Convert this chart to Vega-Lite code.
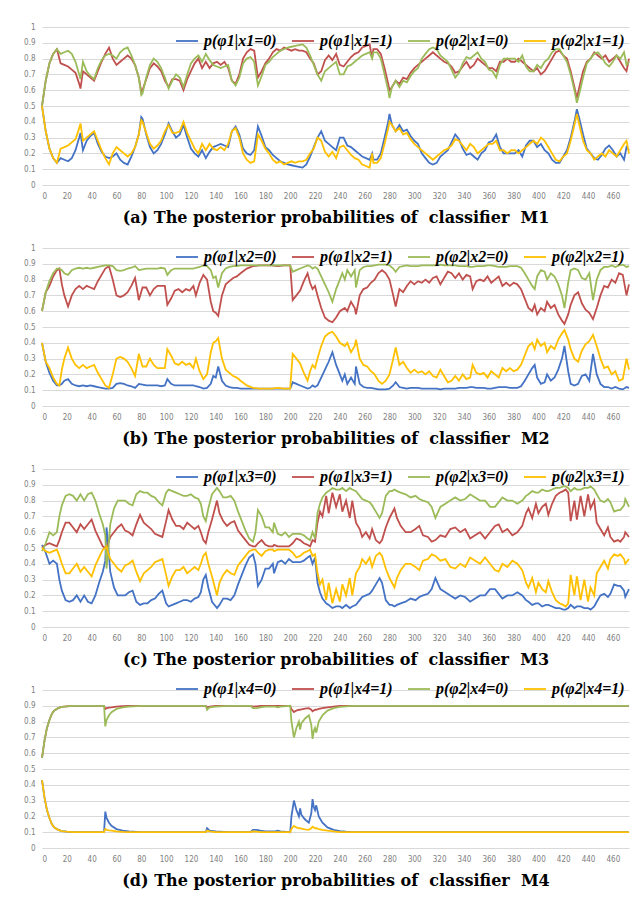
{
"$schema": "https://vega.github.io/schema/vega-lite/v6.json",
"background": "white",
"padding": {"left": 23, "top": 23, "right": 5, "bottom": 5},
"bounds": "flush",
"spacing": 63,
"resolve": {"scale": {"color": "independent"}, "legend": {"color": "independent"}},
"config": {
 "view": {"stroke": null},
 "axis": {"grid": false, "domain": false, "ticks": false, "tickSize": 0, "labelFont": "Liberation Sans Narrow, DejaVu Sans Condensed, sans-serif", "labelFontSize": 8, "labelColor": "#808080"},
 "axisY": {"grid": true, "gridColor": "#d9d9d9", "gridWidth": 1, "labelPadding": 7, "format": ".1~f"},
 "axisX": {"labelPadding": 7, "titleFont": "DejaVu Serif", "titleFontSize": 16, "titleFontWeight": "bold", "titleColor": "#000000", "titlePadding": 9},
 "legend": {"orient": "none", "direction": "horizontal", "symbolType": "stroke", "symbolSize": 484, "symbolStrokeWidth": 2, "labelFont": "Liberation Serif", "labelFontSize": 16, "labelFontStyle": "italic", "labelFontWeight": "bold", "labelColor": "#000000", "columnPadding": 11, "labelOffset": 5, "padding": 0},
 "line": {"strokeWidth": 1.8}
},
"datasets": {
"m1": [
{"x":0,"b":0.5,"r":0.5,"g":0.5,"y":0.5},{"x":3,"b":0.34,"r":0.66,"g":0.66,"y":0.34},{"x":6,"b":0.23,"r":0.77,"g":0.77,"y":0.23},{"x":9,"b":0.17,"r":0.83,"g":0.83,"y":0.17},{"x":12,"b":0.14,"r":0.86,"g":0.86,"y":0.14},{"x":15,"b":0.17,"r":0.77,"g":0.83,"y":0.23},{"x":18,"b":0.16,"r":0.76,"g":0.84,"y":0.24},{"x":21,"b":0.15,"r":0.75,"g":0.85,"y":0.25},{"x":24,"b":0.17,"r":0.73,"g":0.83,"y":0.27},{"x":27,"b":0.22,"r":0.71,"g":0.78,"y":0.29},{"x":30,"b":0.3,"r":0.64,"g":0.7,"y":0.36},{"x":31,"b":0.33,"r":0.61,"g":0.67,"y":0.39},{"x":33,"b":0.22,"r":0.72,"g":0.78,"y":0.28},{"x":36,"b":0.28,"r":0.7,"g":0.72,"y":0.3},{"x":39,"b":0.31,"r":0.68,"g":0.69,"y":0.32},{"x":42,"b":0.33,"r":0.66,"g":0.67,"y":0.34},{"x":45,"b":0.26,"r":0.72,"g":0.74,"y":0.28},{"x":48,"b":0.21,"r":0.78,"g":0.79,"y":0.22},{"x":51,"b":0.18,"r":0.83,"g":0.82,"y":0.17},{"x":54,"b":0.17,"r":0.87,"g":0.83,"y":0.13},{"x":57,"b":0.18,"r":0.8,"g":0.82,"y":0.2},{"x":60,"b":0.2,"r":0.76,"g":0.8,"y":0.24},{"x":63,"b":0.16,"r":0.78,"g":0.84,"y":0.22},{"x":66,"b":0.14,"r":0.8,"g":0.86,"y":0.2},{"x":69,"b":0.13,"r":0.82,"g":0.87,"y":0.18},{"x":72,"b":0.18,"r":0.8,"g":0.82,"y":0.2},{"x":75,"b":0.24,"r":0.76,"g":0.76,"y":0.24},{"x":78,"b":0.32,"r":0.68,"g":0.68,"y":0.32},{"x":80,"b":0.43,"r":0.59,"g":0.57,"y":0.41},{"x":81,"b":0.42,"r":0.6,"g":0.58,"y":0.4},{"x":84,"b":0.32,"r":0.67,"g":0.68,"y":0.33},{"x":87,"b":0.24,"r":0.74,"g":0.76,"y":0.26},{"x":90,"b":0.2,"r":0.77,"g":0.8,"y":0.23},{"x":93,"b":0.22,"r":0.75,"g":0.78,"y":0.25},{"x":96,"b":0.26,"r":0.72,"g":0.74,"y":0.28},{"x":99,"b":0.32,"r":0.66,"g":0.68,"y":0.34},{"x":102,"b":0.39,"r":0.62,"g":0.61,"y":0.38},{"x":105,"b":0.34,"r":0.67,"g":0.66,"y":0.33},{"x":108,"b":0.3,"r":0.67,"g":0.7,"y":0.33},{"x":111,"b":0.32,"r":0.66,"g":0.68,"y":0.34},{"x":114,"b":0.38,"r":0.6,"g":0.62,"y":0.4},{"x":117,"b":0.3,"r":0.67,"g":0.7,"y":0.33},{"x":120,"b":0.23,"r":0.72,"g":0.77,"y":0.28},{"x":123,"b":0.2,"r":0.77,"g":0.8,"y":0.23},{"x":126,"b":0.18,"r":0.8,"g":0.82,"y":0.2},{"x":129,"b":0.22,"r":0.74,"g":0.78,"y":0.26},{"x":132,"b":0.17,"r":0.78,"g":0.83,"y":0.22},{"x":135,"b":0.21,"r":0.74,"g":0.79,"y":0.26},{"x":138,"b":0.24,"r":0.77,"g":0.76,"y":0.23},{"x":141,"b":0.25,"r":0.78,"g":0.75,"y":0.22},{"x":144,"b":0.26,"r":0.76,"g":0.74,"y":0.24},{"x":147,"b":0.25,"r":0.78,"g":0.75,"y":0.22},{"x":150,"b":0.24,"r":0.74,"g":0.76,"y":0.26},{"x":153,"b":0.34,"r":0.66,"g":0.66,"y":0.34},{"x":156,"b":0.37,"r":0.64,"g":0.63,"y":0.36},{"x":159,"b":0.32,"r":0.7,"g":0.68,"y":0.3},{"x":162,"b":0.23,"r":0.8,"g":0.77,"y":0.2},{"x":165,"b":0.2,"r":0.84,"g":0.8,"y":0.16},{"x":168,"b":0.19,"r":0.86,"g":0.81,"y":0.14},{"x":171,"b":0.22,"r":0.85,"g":0.78,"y":0.15},{"x":174,"b":0.37,"r":0.68,"g":0.63,"y":0.32},{"x":177,"b":0.31,"r":0.72,"g":0.69,"y":0.28},{"x":180,"b":0.24,"r":0.77,"g":0.76,"y":0.23},{"x":183,"b":0.22,"r":0.8,"g":0.78,"y":0.2},{"x":186,"b":0.19,"r":0.84,"g":0.81,"y":0.16},{"x":189,"b":0.17,"r":0.86,"g":0.83,"y":0.14},{"x":192,"b":0.15,"r":0.85,"g":0.85,"y":0.15},{"x":195,"b":0.14,"r":0.87,"g":0.86,"y":0.13},{"x":198,"b":0.13,"r":0.86,"g":0.87,"y":0.14},{"x":201,"b":0.125,"r":0.85,"g":0.875,"y":0.15},{"x":204,"b":0.12,"r":0.86,"g":0.88,"y":0.14},{"x":207,"b":0.115,"r":0.85,"g":0.885,"y":0.15},{"x":210,"b":0.11,"r":0.85,"g":0.89,"y":0.15},{"x":213,"b":0.13,"r":0.84,"g":0.87,"y":0.16},{"x":216,"b":0.18,"r":0.8,"g":0.82,"y":0.2},{"x":219,"b":0.24,"r":0.77,"g":0.76,"y":0.23},{"x":222,"b":0.3,"r":0.7,"g":0.7,"y":0.3},{"x":225,"b":0.34,"r":0.72,"g":0.66,"y":0.28},{"x":228,"b":0.28,"r":0.79,"g":0.72,"y":0.21},{"x":231,"b":0.26,"r":0.82,"g":0.74,"y":0.18},{"x":234,"b":0.24,"r":0.79,"g":0.76,"y":0.21},{"x":237,"b":0.22,"r":0.83,"g":0.78,"y":0.17},{"x":240,"b":0.3,"r":0.76,"g":0.7,"y":0.24},{"x":243,"b":0.3,"r":0.75,"g":0.7,"y":0.25},{"x":246,"b":0.25,"r":0.78,"g":0.75,"y":0.22},{"x":249,"b":0.24,"r":0.81,"g":0.76,"y":0.19},{"x":252,"b":0.22,"r":0.83,"g":0.78,"y":0.17},{"x":255,"b":0.2,"r":0.84,"g":0.8,"y":0.16},{"x":258,"b":0.18,"r":0.87,"g":0.82,"y":0.13},{"x":261,"b":0.17,"r":0.88,"g":0.83,"y":0.12},{"x":264,"b":0.16,"r":0.89,"g":0.84,"y":0.11},{"x":266,"b":0.2,"r":0.8,"g":0.8,"y":0.2},{"x":267,"b":0.16,"r":0.86,"g":0.84,"y":0.14},{"x":270,"b":0.16,"r":0.86,"g":0.84,"y":0.14},{"x":273,"b":0.2,"r":0.83,"g":0.8,"y":0.17},{"x":276,"b":0.3,"r":0.74,"g":0.7,"y":0.26},{"x":279,"b":0.4,"r":0.64,"g":0.6,"y":0.36},{"x":280,"b":0.45,"r":0.6,"g":0.55,"y":0.4},{"x":282,"b":0.38,"r":0.62,"g":0.62,"y":0.38},{"x":285,"b":0.34,"r":0.66,"g":0.66,"y":0.34},{"x":288,"b":0.38,"r":0.64,"g":0.62,"y":0.36},{"x":291,"b":0.34,"r":0.68,"g":0.66,"y":0.32},{"x":294,"b":0.35,"r":0.67,"g":0.65,"y":0.33},{"x":297,"b":0.31,"r":0.71,"g":0.69,"y":0.29},{"x":300,"b":0.28,"r":0.74,"g":0.72,"y":0.26},{"x":303,"b":0.26,"r":0.76,"g":0.74,"y":0.24},{"x":306,"b":0.2,"r":0.78,"g":0.8,"y":0.22},{"x":309,"b":0.17,"r":0.8,"g":0.83,"y":0.2},{"x":312,"b":0.14,"r":0.82,"g":0.86,"y":0.18},{"x":315,"b":0.13,"r":0.84,"g":0.87,"y":0.16},{"x":318,"b":0.14,"r":0.82,"g":0.86,"y":0.18},{"x":321,"b":0.18,"r":0.8,"g":0.82,"y":0.2},{"x":324,"b":0.2,"r":0.78,"g":0.8,"y":0.22},{"x":327,"b":0.22,"r":0.77,"g":0.78,"y":0.23},{"x":330,"b":0.27,"r":0.75,"g":0.73,"y":0.25},{"x":333,"b":0.32,"r":0.71,"g":0.68,"y":0.29},{"x":336,"b":0.29,"r":0.72,"g":0.71,"y":0.28},{"x":339,"b":0.23,"r":0.75,"g":0.77,"y":0.25},{"x":342,"b":0.19,"r":0.78,"g":0.81,"y":0.22},{"x":345,"b":0.2,"r":0.74,"g":0.8,"y":0.26},{"x":348,"b":0.18,"r":0.76,"g":0.82,"y":0.24},{"x":351,"b":0.16,"r":0.8,"g":0.84,"y":0.2},{"x":354,"b":0.2,"r":0.78,"g":0.8,"y":0.22},{"x":357,"b":0.22,"r":0.76,"g":0.78,"y":0.24},{"x":360,"b":0.27,"r":0.74,"g":0.73,"y":0.26},{"x":363,"b":0.28,"r":0.74,"g":0.72,"y":0.26},{"x":366,"b":0.32,"r":0.72,"g":0.68,"y":0.28},{"x":369,"b":0.24,"r":0.78,"g":0.76,"y":0.22},{"x":372,"b":0.2,"r":0.78,"g":0.8,"y":0.22},{"x":375,"b":0.2,"r":0.8,"g":0.8,"y":0.2},{"x":378,"b":0.2,"r":0.78,"g":0.8,"y":0.22},{"x":381,"b":0.2,"r":0.78,"g":0.8,"y":0.22},{"x":384,"b":0.22,"r":0.8,"g":0.78,"y":0.2},{"x":387,"b":0.18,"r":0.78,"g":0.82,"y":0.22},{"x":390,"b":0.25,"r":0.76,"g":0.75,"y":0.24},{"x":393,"b":0.28,"r":0.74,"g":0.72,"y":0.26},{"x":396,"b":0.28,"r":0.72,"g":0.72,"y":0.28},{"x":399,"b":0.24,"r":0.74,"g":0.76,"y":0.26},{"x":402,"b":0.26,"r":0.7,"g":0.74,"y":0.3},{"x":405,"b":0.22,"r":0.72,"g":0.78,"y":0.28},{"x":408,"b":0.2,"r":0.76,"g":0.8,"y":0.24},{"x":411,"b":0.16,"r":0.8,"g":0.84,"y":0.2},{"x":414,"b":0.14,"r":0.84,"g":0.86,"y":0.16},{"x":417,"b":0.14,"r":0.85,"g":0.86,"y":0.15},{"x":420,"b":0.18,"r":0.82,"g":0.82,"y":0.18},{"x":423,"b":0.22,"r":0.8,"g":0.78,"y":0.2},{"x":426,"b":0.3,"r":0.72,"g":0.7,"y":0.28},{"x":429,"b":0.4,"r":0.62,"g":0.6,"y":0.38},{"x":431,"b":0.48,"r":0.55,"g":0.52,"y":0.45},{"x":433,"b":0.42,"r":0.62,"g":0.58,"y":0.38},{"x":436,"b":0.32,"r":0.72,"g":0.68,"y":0.28},{"x":439,"b":0.23,"r":0.78,"g":0.77,"y":0.22},{"x":442,"b":0.2,"r":0.8,"g":0.8,"y":0.2},{"x":445,"b":0.17,"r":0.84,"g":0.83,"y":0.16},{"x":448,"b":0.16,"r":0.82,"g":0.84,"y":0.18},{"x":451,"b":0.19,"r":0.8,"g":0.81,"y":0.2},{"x":454,"b":0.23,"r":0.82,"g":0.77,"y":0.18},{"x":457,"b":0.25,"r":0.78,"g":0.75,"y":0.22},{"x":460,"b":0.22,"r":0.8,"g":0.78,"y":0.2},{"x":463,"b":0.18,"r":0.82,"g":0.82,"y":0.18},{"x":466,"b":0.2,"r":0.78,"g":0.8,"y":0.22},{"x":469,"b":0.16,"r":0.74,"g":0.84,"y":0.26},{"x":471,"b":0.24,"r":0.72,"g":0.76,"y":0.28},{"x":473,"b":0.22,"r":0.8,"g":0.78,"y":0.2}
],
"m2": [
{"x":0,"b":0.4,"r":0.6,"g":0.6,"y":0.4},{"x":3,"b":0.28,"r":0.72,"g":0.72,"y":0.28},{"x":6,"b":0.21,"r":0.76,"g":0.79,"y":0.24},{"x":9,"b":0.16,"r":0.82,"g":0.84,"y":0.18},{"x":12,"b":0.13,"r":0.86,"g":0.87,"y":0.14},{"x":14,"b":0.13,"r":0.87,"g":0.87,"y":0.13},{"x":16,"b":0.14,"r":0.77,"g":0.86,"y":0.23},{"x":18,"b":0.16,"r":0.7,"g":0.84,"y":0.3},{"x":21,"b":0.17,"r":0.63,"g":0.83,"y":0.37},{"x":24,"b":0.14,"r":0.7,"g":0.86,"y":0.3},{"x":27,"b":0.13,"r":0.74,"g":0.87,"y":0.26},{"x":30,"b":0.125,"r":0.76,"g":0.875,"y":0.24},{"x":33,"b":0.13,"r":0.74,"g":0.87,"y":0.26},{"x":36,"b":0.125,"r":0.76,"g":0.875,"y":0.24},{"x":39,"b":0.13,"r":0.75,"g":0.87,"y":0.25},{"x":42,"b":0.125,"r":0.74,"g":0.875,"y":0.26},{"x":45,"b":0.12,"r":0.79,"g":0.88,"y":0.21},{"x":48,"b":0.115,"r":0.83,"g":0.885,"y":0.17},{"x":51,"b":0.11,"r":0.87,"g":0.89,"y":0.13},{"x":54,"b":0.11,"r":0.885,"g":0.89,"y":0.115},{"x":57,"b":0.115,"r":0.8,"g":0.885,"y":0.2},{"x":60,"b":0.14,"r":0.7,"g":0.86,"y":0.3},{"x":63,"b":0.145,"r":0.69,"g":0.855,"y":0.31},{"x":66,"b":0.14,"r":0.7,"g":0.86,"y":0.3},{"x":69,"b":0.13,"r":0.72,"g":0.87,"y":0.28},{"x":72,"b":0.125,"r":0.76,"g":0.875,"y":0.24},{"x":75,"b":0.115,"r":0.81,"g":0.885,"y":0.19},{"x":77,"b":0.13,"r":0.72,"g":0.87,"y":0.28},{"x":78,"b":0.14,"r":0.67,"g":0.86,"y":0.33},{"x":81,"b":0.135,"r":0.75,"g":0.865,"y":0.25},{"x":84,"b":0.13,"r":0.75,"g":0.87,"y":0.25},{"x":87,"b":0.13,"r":0.7,"g":0.87,"y":0.3},{"x":90,"b":0.13,"r":0.74,"g":0.87,"y":0.26},{"x":93,"b":0.13,"r":0.76,"g":0.87,"y":0.24},{"x":96,"b":0.125,"r":0.76,"g":0.875,"y":0.24},{"x":99,"b":0.13,"r":0.76,"g":0.87,"y":0.24},{"x":101,"b":0.17,"r":0.64,"g":0.83,"y":0.36},{"x":104,"b":0.14,"r":0.68,"g":0.86,"y":0.32},{"x":107,"b":0.13,"r":0.73,"g":0.87,"y":0.27},{"x":110,"b":0.13,"r":0.74,"g":0.87,"y":0.26},{"x":113,"b":0.13,"r":0.72,"g":0.87,"y":0.28},{"x":116,"b":0.13,"r":0.74,"g":0.87,"y":0.26},{"x":119,"b":0.13,"r":0.73,"g":0.87,"y":0.27},{"x":122,"b":0.13,"r":0.76,"g":0.87,"y":0.24},{"x":124,"b":0.125,"r":0.7,"g":0.875,"y":0.3},{"x":127,"b":0.12,"r":0.78,"g":0.88,"y":0.22},{"x":130,"b":0.11,"r":0.83,"g":0.89,"y":0.17},{"x":133,"b":0.115,"r":0.8,"g":0.885,"y":0.2},{"x":136,"b":0.14,"r":0.66,"g":0.86,"y":0.34},{"x":138,"b":0.19,"r":0.6,"g":0.81,"y":0.4},{"x":140,"b":0.18,"r":0.59,"g":0.82,"y":0.41},{"x":142,"b":0.25,"r":0.57,"g":0.75,"y":0.43},{"x":145,"b":0.16,"r":0.7,"g":0.84,"y":0.3},{"x":148,"b":0.13,"r":0.77,"g":0.87,"y":0.23},{"x":151,"b":0.12,"r":0.79,"g":0.88,"y":0.21},{"x":154,"b":0.115,"r":0.81,"g":0.885,"y":0.19},{"x":157,"b":0.115,"r":0.82,"g":0.885,"y":0.18},{"x":160,"b":0.11,"r":0.84,"g":0.89,"y":0.16},{"x":165,"b":0.11,"r":0.87,"g":0.89,"y":0.13},{"x":170,"b":0.11,"r":0.885,"g":0.89,"y":0.115},{"x":175,"b":0.11,"r":0.89,"g":0.89,"y":0.11},{"x":180,"b":0.11,"r":0.89,"g":0.89,"y":0.11},{"x":185,"b":0.11,"r":0.89,"g":0.89,"y":0.11},{"x":190,"b":0.11,"r":0.885,"g":0.89,"y":0.115},{"x":195,"b":0.11,"r":0.89,"g":0.89,"y":0.11},{"x":200,"b":0.11,"r":0.89,"g":0.89,"y":0.11},{"x":202,"b":0.15,"r":0.67,"g":0.85,"y":0.33},{"x":205,"b":0.14,"r":0.7,"g":0.86,"y":0.3},{"x":208,"b":0.13,"r":0.73,"g":0.87,"y":0.27},{"x":211,"b":0.12,"r":0.79,"g":0.88,"y":0.21},{"x":214,"b":0.11,"r":0.84,"g":0.89,"y":0.16},{"x":216,"b":0.115,"r":0.78,"g":0.885,"y":0.22},{"x":218,"b":0.13,"r":0.74,"g":0.87,"y":0.26},{"x":220,"b":0.12,"r":0.76,"g":0.88,"y":0.24},{"x":222,"b":0.13,"r":0.7,"g":0.87,"y":0.3},{"x":225,"b":0.18,"r":0.62,"g":0.82,"y":0.38},{"x":228,"b":0.23,"r":0.56,"g":0.77,"y":0.44},{"x":231,"b":0.28,"r":0.54,"g":0.72,"y":0.46},{"x":234,"b":0.34,"r":0.53,"g":0.66,"y":0.47},{"x":237,"b":0.26,"r":0.56,"g":0.74,"y":0.44},{"x":240,"b":0.2,"r":0.6,"g":0.8,"y":0.4},{"x":242,"b":0.16,"r":0.61,"g":0.84,"y":0.39},{"x":244,"b":0.2,"r":0.62,"g":0.8,"y":0.38},{"x":246,"b":0.14,"r":0.6,"g":0.86,"y":0.4},{"x":249,"b":0.18,"r":0.66,"g":0.82,"y":0.34},{"x":252,"b":0.14,"r":0.62,"g":0.86,"y":0.38},{"x":253,"b":0.25,"r":0.58,"g":0.75,"y":0.42},{"x":256,"b":0.14,"r":0.7,"g":0.86,"y":0.3},{"x":259,"b":0.12,"r":0.74,"g":0.88,"y":0.26},{"x":262,"b":0.115,"r":0.75,"g":0.885,"y":0.25},{"x":265,"b":0.115,"r":0.78,"g":0.885,"y":0.22},{"x":268,"b":0.11,"r":0.8,"g":0.89,"y":0.2},{"x":271,"b":0.105,"r":0.84,"g":0.895,"y":0.16},{"x":274,"b":0.105,"r":0.86,"g":0.895,"y":0.14},{"x":277,"b":0.105,"r":0.84,"g":0.895,"y":0.16},{"x":280,"b":0.11,"r":0.8,"g":0.89,"y":0.2},{"x":283,"b":0.13,"r":0.7,"g":0.87,"y":0.3},{"x":285,"b":0.15,"r":0.63,"g":0.85,"y":0.37},{"x":288,"b":0.12,"r":0.74,"g":0.88,"y":0.26},{"x":291,"b":0.115,"r":0.72,"g":0.885,"y":0.28},{"x":294,"b":0.11,"r":0.76,"g":0.89,"y":0.24},{"x":297,"b":0.115,"r":0.79,"g":0.885,"y":0.21},{"x":300,"b":0.115,"r":0.77,"g":0.885,"y":0.23},{"x":303,"b":0.115,"r":0.79,"g":0.885,"y":0.21},{"x":306,"b":0.11,"r":0.78,"g":0.89,"y":0.22},{"x":309,"b":0.11,"r":0.8,"g":0.89,"y":0.2},{"x":312,"b":0.11,"r":0.78,"g":0.89,"y":0.22},{"x":315,"b":0.11,"r":0.81,"g":0.89,"y":0.19},{"x":318,"b":0.11,"r":0.82,"g":0.89,"y":0.18},{"x":321,"b":0.105,"r":0.77,"g":0.895,"y":0.23},{"x":324,"b":0.11,"r":0.81,"g":0.89,"y":0.19},{"x":327,"b":0.11,"r":0.85,"g":0.89,"y":0.15},{"x":330,"b":0.11,"r":0.84,"g":0.89,"y":0.16},{"x":333,"b":0.11,"r":0.81,"g":0.89,"y":0.19},{"x":336,"b":0.115,"r":0.84,"g":0.885,"y":0.16},{"x":339,"b":0.115,"r":0.8,"g":0.885,"y":0.2},{"x":342,"b":0.115,"r":0.83,"g":0.885,"y":0.17},{"x":345,"b":0.12,"r":0.82,"g":0.88,"y":0.18},{"x":347,"b":0.12,"r":0.74,"g":0.88,"y":0.26},{"x":350,"b":0.115,"r":0.79,"g":0.885,"y":0.21},{"x":353,"b":0.115,"r":0.8,"g":0.885,"y":0.2},{"x":356,"b":0.115,"r":0.79,"g":0.885,"y":0.21},{"x":359,"b":0.11,"r":0.82,"g":0.89,"y":0.18},{"x":362,"b":0.11,"r":0.78,"g":0.89,"y":0.22},{"x":365,"b":0.115,"r":0.8,"g":0.885,"y":0.2},{"x":368,"b":0.12,"r":0.82,"g":0.88,"y":0.18},{"x":371,"b":0.12,"r":0.76,"g":0.88,"y":0.24},{"x":374,"b":0.12,"r":0.78,"g":0.88,"y":0.22},{"x":377,"b":0.115,"r":0.76,"g":0.885,"y":0.24},{"x":380,"b":0.115,"r":0.78,"g":0.885,"y":0.22},{"x":383,"b":0.115,"r":0.77,"g":0.885,"y":0.23},{"x":386,"b":0.125,"r":0.74,"g":0.875,"y":0.26},{"x":389,"b":0.16,"r":0.68,"g":0.84,"y":0.32},{"x":392,"b":0.2,"r":0.62,"g":0.8,"y":0.38},{"x":395,"b":0.24,"r":0.6,"g":0.76,"y":0.4},{"x":397,"b":0.26,"r":0.64,"g":0.74,"y":0.36},{"x":399,"b":0.18,"r":0.58,"g":0.82,"y":0.42},{"x":402,"b":0.14,"r":0.62,"g":0.86,"y":0.38},{"x":405,"b":0.15,"r":0.6,"g":0.85,"y":0.4},{"x":407,"b":0.2,"r":0.66,"g":0.8,"y":0.34},{"x":410,"b":0.16,"r":0.62,"g":0.84,"y":0.38},{"x":413,"b":0.18,"r":0.64,"g":0.82,"y":0.36},{"x":416,"b":0.23,"r":0.58,"g":0.77,"y":0.42},{"x":419,"b":0.3,"r":0.54,"g":0.7,"y":0.46},{"x":421,"b":0.38,"r":0.52,"g":0.62,"y":0.48},{"x":424,"b":0.22,"r":0.58,"g":0.78,"y":0.42},{"x":426,"b":0.14,"r":0.64,"g":0.86,"y":0.36},{"x":429,"b":0.13,"r":0.7,"g":0.87,"y":0.3},{"x":432,"b":0.14,"r":0.72,"g":0.86,"y":0.28},{"x":435,"b":0.19,"r":0.65,"g":0.81,"y":0.35},{"x":438,"b":0.2,"r":0.61,"g":0.8,"y":0.39},{"x":441,"b":0.16,"r":0.59,"g":0.84,"y":0.41},{"x":444,"b":0.33,"r":0.55,"g":0.67,"y":0.45},{"x":447,"b":0.2,"r":0.62,"g":0.8,"y":0.38},{"x":450,"b":0.14,"r":0.7,"g":0.86,"y":0.3},{"x":453,"b":0.12,"r":0.76,"g":0.88,"y":0.24},{"x":456,"b":0.12,"r":0.75,"g":0.88,"y":0.25},{"x":459,"b":0.11,"r":0.8,"g":0.89,"y":0.2},{"x":462,"b":0.12,"r":0.78,"g":0.88,"y":0.22},{"x":465,"b":0.11,"r":0.84,"g":0.89,"y":0.16},{"x":468,"b":0.105,"r":0.83,"g":0.895,"y":0.17},{"x":471,"b":0.12,"r":0.7,"g":0.88,"y":0.3},{"x":473,"b":0.115,"r":0.77,"g":0.885,"y":0.23}
],
"m3": [
{"x":0,"b":0.52,"r":0.5,"g":0.48,"y":0.5},{"x":3,"b":0.47,"r":0.52,"g":0.53,"y":0.48},{"x":6,"b":0.4,"r":0.53,"g":0.6,"y":0.47},{"x":9,"b":0.42,"r":0.52,"g":0.58,"y":0.48},{"x":12,"b":0.4,"r":0.51,"g":0.6,"y":0.49},{"x":14,"b":0.3,"r":0.55,"g":0.7,"y":0.45},{"x":16,"b":0.23,"r":0.6,"g":0.77,"y":0.4},{"x":19,"b":0.17,"r":0.66,"g":0.83,"y":0.34},{"x":22,"b":0.16,"r":0.66,"g":0.84,"y":0.34},{"x":25,"b":0.17,"r":0.63,"g":0.83,"y":0.37},{"x":28,"b":0.2,"r":0.6,"g":0.8,"y":0.4},{"x":31,"b":0.16,"r":0.65,"g":0.84,"y":0.35},{"x":34,"b":0.2,"r":0.62,"g":0.8,"y":0.38},{"x":37,"b":0.16,"r":0.65,"g":0.84,"y":0.35},{"x":40,"b":0.15,"r":0.68,"g":0.85,"y":0.32},{"x":43,"b":0.2,"r":0.61,"g":0.8,"y":0.39},{"x":46,"b":0.28,"r":0.56,"g":0.72,"y":0.44},{"x":49,"b":0.35,"r":0.51,"g":0.65,"y":0.49},{"x":51,"b":0.42,"r":0.5,"g":0.58,"y":0.5},{"x":52,"b":0.63,"r":0.49,"g":0.37,"y":0.51},{"x":53,"b":0.55,"r":0.52,"g":0.45,"y":0.48},{"x":55,"b":0.35,"r":0.57,"g":0.65,"y":0.43},{"x":58,"b":0.25,"r":0.6,"g":0.75,"y":0.4},{"x":61,"b":0.2,"r":0.63,"g":0.8,"y":0.37},{"x":64,"b":0.2,"r":0.65,"g":0.8,"y":0.35},{"x":67,"b":0.2,"r":0.61,"g":0.8,"y":0.39},{"x":70,"b":0.22,"r":0.6,"g":0.78,"y":0.4},{"x":73,"b":0.23,"r":0.58,"g":0.77,"y":0.42},{"x":76,"b":0.16,"r":0.65,"g":0.84,"y":0.35},{"x":79,"b":0.14,"r":0.71,"g":0.86,"y":0.29},{"x":82,"b":0.15,"r":0.66,"g":0.85,"y":0.34},{"x":85,"b":0.15,"r":0.64,"g":0.85,"y":0.36},{"x":88,"b":0.17,"r":0.62,"g":0.83,"y":0.38},{"x":91,"b":0.18,"r":0.59,"g":0.82,"y":0.41},{"x":94,"b":0.21,"r":0.58,"g":0.79,"y":0.42},{"x":97,"b":0.23,"r":0.57,"g":0.77,"y":0.43},{"x":100,"b":0.15,"r":0.67,"g":0.85,"y":0.33},{"x":102,"b":0.13,"r":0.74,"g":0.87,"y":0.26},{"x":105,"b":0.14,"r":0.68,"g":0.86,"y":0.32},{"x":108,"b":0.15,"r":0.64,"g":0.85,"y":0.36},{"x":111,"b":0.16,"r":0.64,"g":0.84,"y":0.36},{"x":114,"b":0.17,"r":0.62,"g":0.83,"y":0.38},{"x":117,"b":0.17,"r":0.66,"g":0.83,"y":0.34},{"x":120,"b":0.16,"r":0.64,"g":0.84,"y":0.36},{"x":123,"b":0.18,"r":0.62,"g":0.82,"y":0.38},{"x":126,"b":0.19,"r":0.64,"g":0.81,"y":0.36},{"x":128,"b":0.22,"r":0.6,"g":0.78,"y":0.4},{"x":130,"b":0.3,"r":0.55,"g":0.7,"y":0.45},{"x":132,"b":0.33,"r":0.53,"g":0.67,"y":0.47},{"x":134,"b":0.25,"r":0.6,"g":0.75,"y":0.4},{"x":137,"b":0.16,"r":0.68,"g":0.84,"y":0.32},{"x":140,"b":0.13,"r":0.77,"g":0.87,"y":0.23},{"x":141,"b":0.12,"r":0.8,"g":0.88,"y":0.2},{"x":143,"b":0.14,"r":0.72,"g":0.86,"y":0.28},{"x":146,"b":0.18,"r":0.67,"g":0.82,"y":0.33},{"x":149,"b":0.18,"r":0.64,"g":0.82,"y":0.36},{"x":152,"b":0.17,"r":0.66,"g":0.83,"y":0.34},{"x":155,"b":0.2,"r":0.67,"g":0.8,"y":0.33},{"x":158,"b":0.27,"r":0.61,"g":0.73,"y":0.39},{"x":161,"b":0.33,"r":0.58,"g":0.67,"y":0.42},{"x":164,"b":0.39,"r":0.55,"g":0.61,"y":0.45},{"x":167,"b":0.44,"r":0.52,"g":0.56,"y":0.48},{"x":170,"b":0.46,"r":0.51,"g":0.54,"y":0.49},{"x":172,"b":0.4,"r":0.51,"g":0.6,"y":0.49},{"x":174,"b":0.26,"r":0.53,"g":0.74,"y":0.47},{"x":177,"b":0.3,"r":0.55,"g":0.7,"y":0.45},{"x":180,"b":0.37,"r":0.52,"g":0.63,"y":0.48},{"x":183,"b":0.37,"r":0.51,"g":0.63,"y":0.49},{"x":186,"b":0.4,"r":0.51,"g":0.6,"y":0.49},{"x":187,"b":0.34,"r":0.52,"g":0.66,"y":0.48},{"x":190,"b":0.41,"r":0.51,"g":0.59,"y":0.49},{"x":193,"b":0.42,"r":0.51,"g":0.58,"y":0.49},{"x":196,"b":0.4,"r":0.51,"g":0.6,"y":0.49},{"x":199,"b":0.43,"r":0.51,"g":0.57,"y":0.49},{"x":202,"b":0.41,"r":0.53,"g":0.59,"y":0.47},{"x":205,"b":0.41,"r":0.56,"g":0.59,"y":0.44},{"x":208,"b":0.41,"r":0.55,"g":0.59,"y":0.45},{"x":211,"b":0.42,"r":0.53,"g":0.58,"y":0.47},{"x":214,"b":0.44,"r":0.52,"g":0.56,"y":0.48},{"x":216,"b":0.45,"r":0.51,"g":0.55,"y":0.49},{"x":218,"b":0.4,"r":0.55,"g":0.6,"y":0.45},{"x":220,"b":0.44,"r":0.54,"g":0.56,"y":0.46},{"x":222,"b":0.28,"r":0.66,"g":0.72,"y":0.34},{"x":224,"b":0.22,"r":0.73,"g":0.78,"y":0.27},{"x":226,"b":0.18,"r":0.7,"g":0.82,"y":0.3},{"x":229,"b":0.15,"r":0.83,"g":0.85,"y":0.17},{"x":231,"b":0.14,"r":0.72,"g":0.86,"y":0.28},{"x":234,"b":0.12,"r":0.85,"g":0.88,"y":0.15},{"x":237,"b":0.13,"r":0.76,"g":0.87,"y":0.24},{"x":240,"b":0.13,"r":0.84,"g":0.87,"y":0.16},{"x":242,"b":0.12,"r":0.73,"g":0.88,"y":0.27},{"x":245,"b":0.14,"r":0.8,"g":0.86,"y":0.2},{"x":248,"b":0.12,"r":0.69,"g":0.88,"y":0.31},{"x":250,"b":0.13,"r":0.8,"g":0.87,"y":0.2},{"x":253,"b":0.14,"r":0.66,"g":0.86,"y":0.34},{"x":256,"b":0.17,"r":0.62,"g":0.83,"y":0.38},{"x":258,"b":0.19,"r":0.57,"g":0.81,"y":0.43},{"x":261,"b":0.2,"r":0.6,"g":0.8,"y":0.4},{"x":264,"b":0.21,"r":0.56,"g":0.79,"y":0.44},{"x":266,"b":0.23,"r":0.62,"g":0.77,"y":0.38},{"x":269,"b":0.27,"r":0.55,"g":0.73,"y":0.45},{"x":272,"b":0.31,"r":0.53,"g":0.69,"y":0.47},{"x":274,"b":0.28,"r":0.55,"g":0.72,"y":0.45},{"x":277,"b":0.17,"r":0.63,"g":0.83,"y":0.37},{"x":280,"b":0.14,"r":0.69,"g":0.86,"y":0.31},{"x":282,"b":0.14,"r":0.72,"g":0.86,"y":0.28},{"x":284,"b":0.13,"r":0.75,"g":0.87,"y":0.25},{"x":286,"b":0.14,"r":0.69,"g":0.86,"y":0.31},{"x":289,"b":0.15,"r":0.64,"g":0.85,"y":0.36},{"x":293,"b":0.16,"r":0.6,"g":0.84,"y":0.4},{"x":297,"b":0.18,"r":0.6,"g":0.82,"y":0.4},{"x":301,"b":0.17,"r":0.62,"g":0.83,"y":0.38},{"x":304,"b":0.19,"r":0.64,"g":0.81,"y":0.36},{"x":307,"b":0.2,"r":0.58,"g":0.8,"y":0.42},{"x":311,"b":0.21,"r":0.57,"g":0.79,"y":0.43},{"x":314,"b":0.24,"r":0.54,"g":0.76,"y":0.46},{"x":317,"b":0.31,"r":0.55,"g":0.69,"y":0.45},{"x":321,"b":0.24,"r":0.58,"g":0.76,"y":0.42},{"x":325,"b":0.22,"r":0.57,"g":0.78,"y":0.43},{"x":329,"b":0.2,"r":0.62,"g":0.8,"y":0.38},{"x":333,"b":0.18,"r":0.63,"g":0.82,"y":0.37},{"x":337,"b":0.2,"r":0.6,"g":0.8,"y":0.4},{"x":341,"b":0.19,"r":0.62,"g":0.81,"y":0.38},{"x":345,"b":0.16,"r":0.56,"g":0.84,"y":0.44},{"x":349,"b":0.18,"r":0.58,"g":0.82,"y":0.42},{"x":353,"b":0.2,"r":0.6,"g":0.8,"y":0.4},{"x":357,"b":0.2,"r":0.56,"g":0.8,"y":0.44},{"x":361,"b":0.24,"r":0.6,"g":0.76,"y":0.4},{"x":365,"b":0.24,"r":0.64,"g":0.76,"y":0.36},{"x":368,"b":0.21,"r":0.65,"g":0.79,"y":0.35},{"x":371,"b":0.18,"r":0.6,"g":0.82,"y":0.4},{"x":375,"b":0.2,"r":0.62,"g":0.8,"y":0.38},{"x":379,"b":0.2,"r":0.58,"g":0.8,"y":0.42},{"x":383,"b":0.22,"r":0.6,"g":0.78,"y":0.4},{"x":387,"b":0.2,"r":0.64,"g":0.8,"y":0.36},{"x":390,"b":0.17,"r":0.72,"g":0.83,"y":0.28},{"x":392,"b":0.16,"r":0.75,"g":0.84,"y":0.25},{"x":395,"b":0.14,"r":0.69,"g":0.86,"y":0.31},{"x":398,"b":0.15,"r":0.78,"g":0.85,"y":0.22},{"x":400,"b":0.15,"r":0.72,"g":0.85,"y":0.28},{"x":403,"b":0.13,"r":0.76,"g":0.87,"y":0.24},{"x":406,"b":0.14,"r":0.78,"g":0.86,"y":0.22},{"x":408,"b":0.14,"r":0.71,"g":0.86,"y":0.29},{"x":411,"b":0.13,"r":0.78,"g":0.87,"y":0.22},{"x":414,"b":0.12,"r":0.83,"g":0.88,"y":0.17},{"x":417,"b":0.12,"r":0.85,"g":0.88,"y":0.15},{"x":420,"b":0.11,"r":0.86,"g":0.89,"y":0.14},{"x":422,"b":0.11,"r":0.87,"g":0.89,"y":0.13},{"x":424,"b":0.12,"r":0.85,"g":0.88,"y":0.15},{"x":426,"b":0.14,"r":0.67,"g":0.86,"y":0.33},{"x":429,"b":0.12,"r":0.8,"g":0.88,"y":0.2},{"x":431,"b":0.13,"r":0.68,"g":0.87,"y":0.32},{"x":434,"b":0.13,"r":0.83,"g":0.87,"y":0.17},{"x":437,"b":0.12,"r":0.7,"g":0.88,"y":0.3},{"x":440,"b":0.12,"r":0.84,"g":0.88,"y":0.16},{"x":442,"b":0.11,"r":0.75,"g":0.89,"y":0.25},{"x":445,"b":0.13,"r":0.8,"g":0.87,"y":0.2},{"x":447,"b":0.16,"r":0.66,"g":0.84,"y":0.34},{"x":450,"b":0.2,"r":0.62,"g":0.8,"y":0.38},{"x":453,"b":0.21,"r":0.58,"g":0.79,"y":0.42},{"x":456,"b":0.19,"r":0.63,"g":0.81,"y":0.37},{"x":458,"b":0.21,"r":0.57,"g":0.79,"y":0.43},{"x":461,"b":0.27,"r":0.54,"g":0.73,"y":0.46},{"x":464,"b":0.26,"r":0.55,"g":0.74,"y":0.45},{"x":466,"b":0.26,"r":0.54,"g":0.74,"y":0.46},{"x":469,"b":0.23,"r":0.57,"g":0.77,"y":0.43},{"x":470,"b":0.19,"r":0.6,"g":0.81,"y":0.4},{"x":473,"b":0.24,"r":0.57,"g":0.76,"y":0.43}
],
"m4": [
{"x":0,"b":0.43,"r":0.57,"g":0.57,"y":0.43},{"x":2,"b":0.32,"r":0.68,"g":0.68,"y":0.32},{"x":4,"b":0.24,"r":0.76,"g":0.76,"y":0.24},{"x":6,"b":0.19,"r":0.81,"g":0.81,"y":0.19},{"x":8,"b":0.15,"r":0.85,"g":0.85,"y":0.15},{"x":10,"b":0.13,"r":0.87,"g":0.87,"y":0.13},{"x":13,"b":0.115,"r":0.885,"g":0.885,"y":0.115},{"x":16,"b":0.107,"r":0.893,"g":0.893,"y":0.107},{"x":20,"b":0.103,"r":0.897,"g":0.897,"y":0.103},{"x":25,"b":0.1,"r":0.9,"g":0.9,"y":0.1},{"x":50,"b":0.1,"r":0.9,"g":0.9,"y":0.1},{"x":51,"b":0.23,"r":0.88,"g":0.77,"y":0.12},{"x":52,"b":0.19,"r":0.885,"g":0.81,"y":0.115},{"x":54,"b":0.16,"r":0.888,"g":0.84,"y":0.112},{"x":56,"b":0.14,"r":0.89,"g":0.86,"y":0.11},{"x":60,"b":0.12,"r":0.895,"g":0.88,"y":0.105},{"x":65,"b":0.11,"r":0.898,"g":0.89,"y":0.102},{"x":70,"b":0.105,"r":0.9,"g":0.895,"y":0.1},{"x":80,"b":0.1,"r":0.9,"g":0.9,"y":0.1},{"x":132,"b":0.1,"r":0.9,"g":0.9,"y":0.1},{"x":133,"b":0.125,"r":0.89,"g":0.875,"y":0.11},{"x":135,"b":0.11,"r":0.895,"g":0.89,"y":0.105},{"x":140,"b":0.105,"r":0.9,"g":0.895,"y":0.1},{"x":150,"b":0.1,"r":0.9,"g":0.9,"y":0.1},{"x":168,"b":0.1,"r":0.9,"g":0.9,"y":0.1},{"x":170,"b":0.115,"r":0.895,"g":0.885,"y":0.105},{"x":173,"b":0.115,"r":0.897,"g":0.885,"y":0.103},{"x":176,"b":0.11,"r":0.9,"g":0.89,"y":0.1},{"x":180,"b":0.105,"r":0.9,"g":0.895,"y":0.1},{"x":188,"b":0.105,"r":0.9,"g":0.895,"y":0.1},{"x":190,"b":0.11,"r":0.9,"g":0.89,"y":0.1},{"x":192,"b":0.105,"r":0.9,"g":0.895,"y":0.1},{"x":200,"b":0.1,"r":0.9,"g":0.9,"y":0.1},{"x":201,"b":0.2,"r":0.88,"g":0.8,"y":0.12},{"x":203,"b":0.3,"r":0.86,"g":0.7,"y":0.14},{"x":205,"b":0.24,"r":0.87,"g":0.76,"y":0.13},{"x":207,"b":0.2,"r":0.875,"g":0.8,"y":0.125},{"x":208,"b":0.25,"r":0.875,"g":0.75,"y":0.125},{"x":209,"b":0.21,"r":0.878,"g":0.79,"y":0.122},{"x":212,"b":0.18,"r":0.882,"g":0.82,"y":0.118},{"x":215,"b":0.16,"r":0.885,"g":0.84,"y":0.115},{"x":217,"b":0.22,"r":0.875,"g":0.78,"y":0.125},{"x":218,"b":0.31,"r":0.865,"g":0.69,"y":0.135},{"x":219,"b":0.26,"r":0.87,"g":0.74,"y":0.13},{"x":220,"b":0.24,"r":0.875,"g":0.76,"y":0.125},{"x":221,"b":0.27,"r":0.875,"g":0.73,"y":0.125},{"x":223,"b":0.2,"r":0.88,"g":0.8,"y":0.12},{"x":226,"b":0.16,"r":0.885,"g":0.84,"y":0.115},{"x":230,"b":0.13,"r":0.89,"g":0.87,"y":0.11},{"x":235,"b":0.115,"r":0.895,"g":0.885,"y":0.105},{"x":240,"b":0.107,"r":0.9,"g":0.893,"y":0.1},{"x":245,"b":0.103,"r":0.9,"g":0.897,"y":0.1},{"x":250,"b":0.1,"r":0.9,"g":0.9,"y":0.1},{"x":473,"b":0.1,"r":0.9,"g":0.9,"y":0.1}
]
},
"vconcat": [
{
 "width": 587, "height": 158,
 "data": {"name": "m1"},
 "transform": [{"fold": ["b","r","g","y"], "as": ["k","v"]}],
 "mark": {"type": "line"},
 "encoding": {
  "x": {"field": "x", "type": "quantitative", "scale": {"domain": [0,473], "nice": false}, "axis": {"values": [0,20,40,60,80,100,120,140,160,180,200,220,240,260,280,300,320,340,360,380,400,420,440,460], "title": "(a) The posterior probabilities of\u00a0 classifier\u00a0 M1"}},
  "y": {"field": "v", "type": "quantitative", "scale": {"domain": [0,1]}, "axis": {"values": [0,0.1,0.2,0.3,0.4,0.5,0.6,0.7,0.8,0.9,1], "title": null}},
  "color": {"field": "k", "type": "nominal", "scale": {"domain": ["b","r","g","y"], "range": ["#4472C4","#C0504D","#9BBB59","#FFC000"]}, "legend": {"title": null, "legendX": 133, "legendY": 2, "labelExpr": "datum.label=='b'?'p(φ1|x1=0)':datum.label=='r'?'p(φ1|x1=1)':datum.label=='g'?'p(φ2|x1=0)':'p(φ2|x1=1)'"}}
 }
},
{
 "width": 587, "height": 158,
 "data": {"name": "m2"},
 "transform": [{"fold": ["b","r","g","y"], "as": ["k","v"]}],
 "mark": {"type": "line"},
 "encoding": {
  "x": {"field": "x", "type": "quantitative", "scale": {"domain": [0,473], "nice": false}, "axis": {"values": [0,20,40,60,80,100,120,140,160,180,200,220,240,260,280,300,320,340,360,380,400,420,440,460], "title": "(b) The posterior probabilities of\u00a0 classifier\u00a0 M2"}},
  "y": {"field": "v", "type": "quantitative", "scale": {"domain": [0,1]}, "axis": {"values": [0,0.1,0.2,0.3,0.4,0.5,0.6,0.7,0.8,0.9,1], "title": null}},
  "color": {"field": "k", "type": "nominal", "scale": {"domain": ["b","r","g","y"], "range": ["#4472C4","#C0504D","#9BBB59","#FFC000"]}, "legend": {"title": null, "legendX": 133, "legendY": -3, "labelExpr": "datum.label=='b'?'p(φ1|x2=0)':datum.label=='r'?'p(φ1|x2=1)':datum.label=='g'?'p(φ2|x2=0)':'p(φ2|x2=1)'"}}
 }
},
{
 "width": 587, "height": 158,
 "data": {"name": "m3"},
 "transform": [{"fold": ["b","r","g","y"], "as": ["k","v"]}],
 "mark": {"type": "line"},
 "encoding": {
  "x": {"field": "x", "type": "quantitative", "scale": {"domain": [0,473], "nice": false}, "axis": {"values": [0,20,40,60,80,100,120,140,160,180,200,220,240,260,280,300,320,340,360,380,400,420,440,460], "title": "(c) The posterior probabilities of\u00a0 classifier\u00a0 M3"}},
  "y": {"field": "v", "type": "quantitative", "scale": {"domain": [0,1]}, "axis": {"values": [0,0.1,0.2,0.3,0.4,0.5,0.6,0.7,0.8,0.9,1], "title": null}},
  "color": {"field": "k", "type": "nominal", "scale": {"domain": ["b","r","g","y"], "range": ["#4472C4","#C0504D","#9BBB59","#FFC000"]}, "legend": {"title": null, "legendX": 133, "legendY": -4, "labelExpr": "datum.label=='b'?'p(φ1|x3=0)':datum.label=='r'?'p(φ1|x3=1)':datum.label=='g'?'p(φ2|x3=0)':'p(φ2|x3=1)'"}}
 }
},
{
 "width": 587, "height": 158,
 "data": {"name": "m4"},
 "transform": [{"fold": ["b","r","g","y"], "as": ["k","v"]}],
 "mark": {"type": "line"},
 "encoding": {
  "x": {"field": "x", "type": "quantitative", "scale": {"domain": [0,473], "nice": false}, "axis": {"values": [0,20,40,60,80,100,120,140,160,180,200,220,240,260,280,300,320,340,360,380,400,420,440,460], "title": "(d) The posterior probabilities of\u00a0 classifier\u00a0 M4"}},
  "y": {"field": "v", "type": "quantitative", "scale": {"domain": [0,1]}, "axis": {"values": [0,0.1,0.2,0.3,0.4,0.5,0.6,0.7,0.8,0.9,1], "title": null}},
  "color": {"field": "k", "type": "nominal", "scale": {"domain": ["b","r","g","y"], "range": ["#4472C4","#C0504D","#9BBB59","#FFC000"]}, "legend": {"title": null, "legendX": 133, "legendY": -13, "labelExpr": "datum.label=='b'?'p(φ1|x4=0)':datum.label=='r'?'p(φ1|x4=1)':datum.label=='g'?'p(φ2|x4=0)':'p(φ2|x4=1)'"}}
 }
}
]
}
